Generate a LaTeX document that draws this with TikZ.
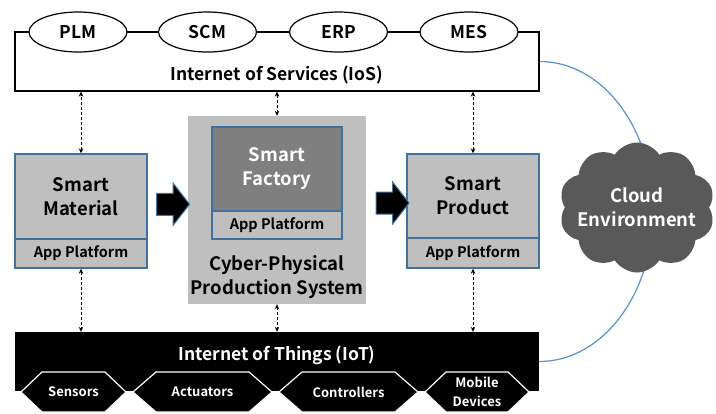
\documentclass[tikz,border=0pt]{standalone}
\usepackage{fontspec}
\setmainfont{Noto Sans CJK KR}[BoldFont=* Bold]
\usetikzlibrary{shapes.geometric,shapes.symbols,shapes.arrows,arrows.meta,calc}
\definecolor{boxgray}{HTML}{BFBFBF}
\definecolor{bordblue}{HTML}{41719C}
\definecolor{facgray}{HTML}{7F7F7F}
\definecolor{cloudgray}{HTML}{595959}
\definecolor{linkblue}{HTML}{5B8FD0}
\newcommand\fs[2]{\fontsize{#1}{#2}\selectfont}
\newcommand\hexbox[5]{%
  \draw[hexst] (#2-#3,392) -- (#2-#3+#4,372) -- (#2+#3-#4,372) -- (#2+#3,392) -- (#2+#3-#4,412) -- (#2-#3+#4,412) -- cycle;
  \node[hextxt] (#1) at (#2,392) {#5};}
\begin{document}
\begin{tikzpicture}[x=1pt,y=-1pt,font=\bfseries,
  panel/.style={draw=bordblue, line width=1.4pt, fill=boxgray, minimum width=132pt, inner sep=0pt, align=center},
  bigtxt/.style={font=\bfseries\fs{18.5}{24}},
  apptxt/.style={font=\bfseries\fs{14.5}{17}},
  svc/.style={ellipse, draw=black, line width=1.2pt, fill=white, minimum width=98pt, minimum height=40pt, inner sep=0pt, font=\bfseries\fs{17.5}{20}},
  dar/.style={dash pattern=on 3pt off 2pt, line width=0.8pt, {Stealth[length=5pt,width=4.5pt]}-{Stealth[length=5pt,width=4.5pt]}},
  fat/.style={single arrow, fill=black, draw=bordblue, line width=1pt, minimum height=33pt, minimum width=41pt, single arrow head extend=10pt, single arrow tip angle=104, inner sep=0pt, inner ysep=10.5pt},
  hexst/.style={draw=white, line width=1.2pt, fill=black, line join=miter},
  hextxt/.style={text=white, align=center, inner sep=0pt, font=\bfseries\fs{13}{19}}
]
\useasboundingbox (0,0) rectangle (716,413);
% Internet of Services
\node[draw=black, line width=1.2pt, minimum width=524pt, minimum height=59pt, inner sep=0pt] (ios) at (277,61.5) {};
\node[font=\bfseries\fs{17.5}{20}] (iostxt) at (277,75) {Internet of Services (IoS)};
\node[svc] (plm) at (78,32) {PLM};
\node[svc] (scm) at (207.5,32) {SCM};
\node[svc] (erp) at (338.5,32) {ERP};
\node[svc] (mes) at (469,32) {MES};
% CPPS
\node[fill=boxgray, minimum width=178pt, minimum height=188pt, inner sep=0pt] (cpps) at (277,210) {};
\node[panel, fill=facgray, minimum width=130pt, minimum height=84pt, text=white, bigtxt] (sf) at (277,169) {Smart\\Factory};
\node[panel, minimum width=130pt, minimum height=28pt, apptxt] (sfapp) at (277,225) {App Platform};
\node[bigtxt, align=center] (cppstxt) at (277,277) {Cyber-Physical\\Production System};
% Smart Material
\node[panel, minimum height=85pt, bigtxt] (sm) at (81,196.5) {Smart\\Material};
\node[panel, minimum height=29pt, apptxt] (smapp) at (81,253.5) {App Platform};
% Smart Product
\node[panel, minimum height=84pt, bigtxt] (sp) at (473,196) {Smart\\Product};
\node[panel, minimum height=30pt, apptxt] (spapp) at (473,253) {App Platform};
% fat arrows
\node[fat] (arr1) at ($(sm.east)!0.5!(cpps.west)+(1,1)$) {};
\node[fat] (arr2) at ($(cpps.east)!0.5!(sp.west)+(2,0)$) {};
% Internet of Things
\node[fill=black, minimum width=524pt, minimum height=59pt, inner sep=0pt] (iot) at (277,361.5) {};
\node[text=white, font=\bfseries\fs{17.5}{20}] (iottxt) at (277,355) {Internet of Things (IoT)};
\hexbox{sen}{73.5}{52.5}{21}{Sensors}
\hexbox{act}{202.5}{69.5}{23}{Actuators}
\hexbox{con}{348.5}{69.5}{23}{Controllers}
\hexbox{mob}{477}{52}{21}{Mobile\\Devices}
% blue link and cloud
\draw[linkblue, line width=1.2pt] (ios.east) .. controls +(63,0) and +(0,-83) .. (653,211.5) .. controls +(0,83) and +(63,0) .. (iot.east);
\node[cloud, cloud puffs=10, cloud puff arc=115, aspect=1.25, fill=cloudgray, minimum width=156pt, minimum height=130pt, inner sep=0pt] (cloud) at (637,207.5) {};
\node[text=white, bigtxt, align=center] (cloudtxt) at (cloud.center) {Cloud\\Environment};
% dashed links
\draw[dar] (sm.north) -- (sm.north |- ios.south);
\draw[dar] (cpps.north) -- (cpps.north |- ios.south);
\draw[dar] (sp.north) -- (sp.north |- ios.south);
\draw[dar] (smapp.south) -- (smapp.south |- iot.north);
\draw[dar] (cpps.south) -- (cpps.south |- iot.north);
\draw[dar] (spapp.south) -- (spapp.south |- iot.north);
\end{tikzpicture}
\end{document}
